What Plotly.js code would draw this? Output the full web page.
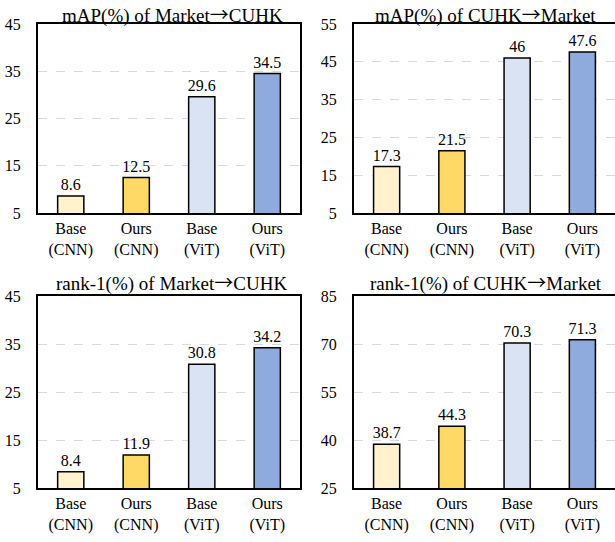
<!DOCTYPE html>
<html>
<head>
<meta charset="utf-8">
<script src="https://cdn.plot.ly/plotly-3.0.1.min.js"></script>
<style>html,body{margin:0;padding:0;background:#fff;overflow:hidden;}</style>
</head>
<body>
<div id="chart" style="width:615px;height:542px;"></div>
<script>
const categories = ["Base<br>(CNN)", "Ours<br>(CNN)", "Base<br>(ViT)", "Ours<br>(ViT)"];
const mapMarketToCuhk = [8.6, 12.5, 29.6, 34.5];
const mapCuhkToMarket = [17.3, 21.5, 46, 47.6];
const rank1MarketToCuhk = [8.4, 11.9, 30.8, 34.2];
const rank1CuhkToMarket = [38.7, 44.3, 70.3, 71.3];
const panelTitles = ["mAP(%) of Market→CUHK", "mAP(%) of CUHK→Market", "rank-1(%) of Market→CUHK", "rank-1(%) of CUHK→Market"];
const barColors = ["#FFF2CC", "#FFD966", "#DAE3F3", "#8FAADC"];

const FONT = "Liberation Serif";
const W = 615, H = 542;
const px = v => v / W;
const py = v => 1 - v / H;

const panels = [
  {vals: mapMarketToCuhk, xa: "x", ya: "y", range: [5, 45], dtick: 10},
  {vals: mapCuhkToMarket, xa: "x2", ya: "y2", range: [5, 55], dtick: 10},
  {vals: rank1MarketToCuhk, xa: "x3", ya: "y3", range: [5, 45], dtick: 10},
  {vals: rank1CuhkToMarket, xa: "x4", ya: "y4", range: [25, 85], dtick: 15}
];

const traces = panels.map(p => ({
  type: "bar",
  x: categories,
  y: p.vals,
  xaxis: p.xa,
  yaxis: p.ya,
  width: 0.4,
  marker: {color: barColors, line: {color: "#000", width: 1.5}},
  text: p.vals.map(v => String(v)),
  textposition: "outside",
  constraintext: "none",
  textfont: {family: FONT, size: 16, color: "#000"},
  cliponaxis: false,
  hoverinfo: "skip",
  showlegend: false
}));

const xDomLeft = [px(38), px(300)];
const xDomRight = [px(354), 1];
const yDomTop = [py(213), py(24)];
const yDomBot = [py(488), py(296)];

function xaxis(domain, anchor) {
  return {
    domain: domain, anchor: anchor, type: "category",
    showline: true, linecolor: "#000", linewidth: 2, mirror: true,
    ticks: "", showgrid: false, zeroline: false,
    tickfont: {family: FONT, size: 16, color: "#000"},
    fixedrange: true
  };
}
function yaxis(domain, anchor, p, mirror) {
  return {
    domain: domain, anchor: anchor, range: p.range, dtick: p.dtick, tick0: p.range[0],
    showline: true, linecolor: "#000", linewidth: 2, mirror: mirror,
    ticks: "", showgrid: true, gridcolor: "#d9d9d9", gridwidth: 1, griddash: "dash",
    zeroline: false, ticklabelstandoff: 12,
    tickfont: {family: FONT, size: 16, color: "#000"},
    fixedrange: true
  };
}

const titleX = [px(172), px(485), px(171), px(486)];
const titleY = [py(13), py(13), py(282), py(282)];
const arrowSpan = '<span style="font-family:Noto Sans CJK SC">→</span>';

const layout = {
  width: W, height: H,
  margin: {l: 0, r: 0, t: 0, b: 0},
  paper_bgcolor: "#fff", plot_bgcolor: "#fff",
  font: {family: FONT, size: 16, color: "#000"},
  xaxis: xaxis(xDomLeft, "y"),
  yaxis: yaxis(yDomTop, "x", panels[0], true),
  xaxis2: xaxis(xDomRight, "y2"),
  yaxis2: yaxis(yDomTop, "x2", panels[1], false),
  xaxis3: xaxis(xDomLeft, "y3"),
  yaxis3: yaxis(yDomBot, "x3", panels[2], true),
  xaxis4: xaxis(xDomRight, "y4"),
  yaxis4: yaxis(yDomBot, "x4", panels[3], false),
  annotations: panelTitles.map((t, i) => ({
    text: t.replace("→", arrowSpan), xref: "paper", yref: "paper", x: titleX[i], y: titleY[i],
    xanchor: "center", yanchor: "middle", showarrow: false,
    font: {family: FONT, size: 19, color: "#000"}
  }))
};

Plotly.newPlot("chart", traces, layout, {displayModeBar: false, staticPlot: true});
</script>
</body>
</html>
